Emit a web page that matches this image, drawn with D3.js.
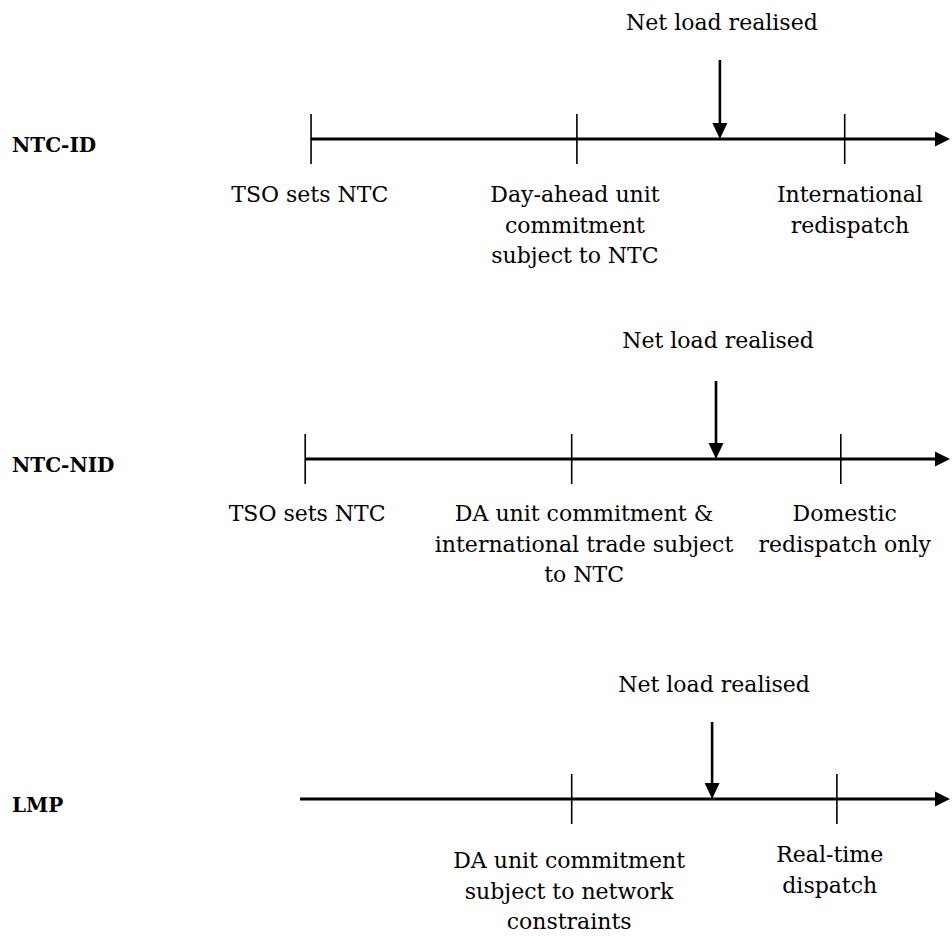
<!DOCTYPE html>
<html>
<head>
<meta charset="utf-8">
<script src="https://cdn.jsdelivr.net/npm/d3@7"></script>
<style>
  html, body { margin: 0; padding: 0; background: #fff; }
  svg { display: block; }
</style>
</head>
<body>
<svg id="chart" width="952" height="936"></svg>
<script>
// ---- data (timeline units 0..100) ----
const rows = ["NTC-ID", "NTC-NID", "LMP"];
const timelineStart = [1.7, 0.8, 0];
const timelineEnd = [100, 100, 100];
const netLoadAt = [64.6, 64.0, 63.4];
const netLoadLabel = "Net load realised";
const tickAt = [
  [1.7, 42.6, 83.8],
  [0.8, 41.8, 83.2],
  [41.8, 82.6]
];
const eventLabelAt = [
  [1.5, 42.3, 84.6],
  [1.1, 43.7, 83.8],
  [41.4, 81.5]
];
const eventLabels = [
  [["TSO sets NTC"], ["Day-ahead unit", "commitment", "subject to NTC"], ["International", "redispatch"]],
  [["TSO sets NTC"], ["DA unit commitment &", "international trade subject", "to NTC"], ["Domestic", "redispatch only"]],
  [["DA unit commitment", "subject to network", "constraints"], ["Real-time", "dispatch"]]
];

// ---- layout ----
const svg = d3.select("#chart");
const x = d3.scaleLinear().domain([0, 100]).range([300, 950]);
const rowY = [139, 459, 799];
const netTextBaseline = [30, 348, 692];
const arrowTop = [60, 381, 722];
const labelBaseline = [[202, 202, 202], [521, 521, 521], [868, 862]];
const lineGap = 30.5;
const tickHalf = 25;
const serif = "'DejaVu Serif', 'Liberation Serif', serif";

rows.forEach((name, i) => {
  const g = svg.append("g");
  const y = rowY[i];

  // row title
  g.append("text")
    .attr("x", 12).attr("y", y + 13)
    .attr("font-family", serif).attr("font-weight", "bold")
    .attr("font-size", 20).attr("fill", "#000")
    .text(name);

  // main line
  const x0 = x(timelineStart[i]), x1 = x(timelineEnd[i]);
  g.append("line")
    .attr("x1", x0).attr("x2", x1 - 12)
    .attr("y1", y).attr("y2", y)
    .attr("stroke", "#000").attr("stroke-width", 2.8);
  g.append("path")
    .attr("d", d3.line()([[x1 - 15, y - 7.5], [x1, y], [x1 - 15, y + 7.5]]) + "Z")
    .attr("fill", "#000");

  // ticks
  g.selectAll("line.tick").data(tickAt[i]).enter().append("line")
    .attr("class", "tick")
    .attr("x1", d => x(d)).attr("x2", d => x(d))
    .attr("y1", y - tickHalf).attr("y2", y + tickHalf)
    .attr("stroke", "#000").attr("stroke-width", 1.6);

  // net load arrow
  const ax = x(netLoadAt[i]);
  g.append("line")
    .attr("x1", ax).attr("x2", ax)
    .attr("y1", arrowTop[i]).attr("y2", y - 12)
    .attr("stroke", "#000").attr("stroke-width", 2.6);
  g.append("path")
    .attr("d", d3.line()([[ax - 7.5, y - 16], [ax, y], [ax + 7.5, y - 16]]) + "Z")
    .attr("fill", "#000");
  g.append("text")
    .attr("x", ax + 2).attr("y", netTextBaseline[i])
    .attr("text-anchor", "middle")
    .attr("font-family", serif).attr("font-size", 22).attr("fill", "#000")
    .text(netLoadLabel);

  // event labels
  eventLabels[i].forEach((lines, j) => {
    const t = g.append("text")
      .attr("x", x(eventLabelAt[i][j])).attr("y", labelBaseline[i][j])
      .attr("text-anchor", "middle")
      .attr("font-family", serif).attr("font-size", 22).attr("fill", "#000");
    lines.forEach((ln, k) => {
      t.append("tspan")
        .attr("x", x(eventLabelAt[i][j]))
        .attr("y", labelBaseline[i][j] + k * lineGap)
        .text(ln);
    });
  });
});
</script>
</body>
</html>
